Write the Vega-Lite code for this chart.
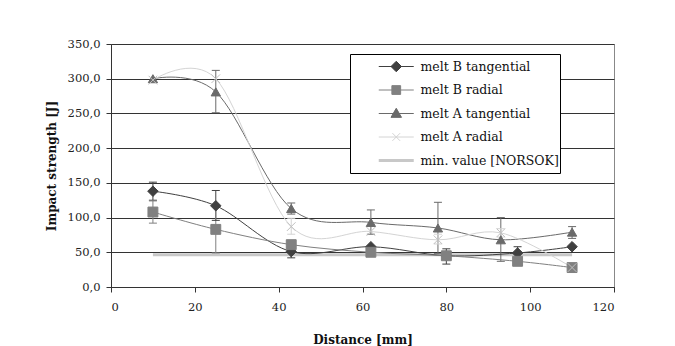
{
  "$schema": "https://vega.github.io/schema/vega-lite/v6.json",
  "width": 503,
  "height": 243,
  "autosize": {"type": "none"},
  "padding": {"left": 111, "top": 44, "right": 61, "bottom": 59},
  "background": "white",
  "config": {
    "font": "DejaVu Serif",
    "view": {"stroke": "#888888", "strokeWidth": 1},
    "axis": {
      "labelFont": "DejaVu Serif", "labelFontSize": 11.5, "labelColor": "#222222", "labelOverlap": false,
      "titleFont": "DejaVu Serif", "titleFontSize": 12, "titleFontWeight": "bold", "titleColor": "#111111",
      "domainColor": "#333333", "tickColor": "#333333", "tickSize": 5,
      "gridColor": "#333333", "gridWidth": 1, "gridOpacity": 1
    },
    "axisX": {"grid": false, "tickCount": 6, "labelPadding": 9, "titlePadding": 22},
    "axisY": {"grid": true, "tickCount": 7, "labelPadding": 6, "titlePadding": 9}
  },
  "datasets": {
    "pts": [
      {"series": "melt B tangential", "x": 10, "y": 138, "lo": 125, "hi": 151},
      {"series": "melt B tangential", "x": 25, "y": 117, "lo": 96, "hi": 139},
      {"series": "melt B tangential", "x": 43, "y": 51, "lo": 42, "hi": 60},
      {"series": "melt B tangential", "x": 62, "y": 58, "lo": null, "hi": null},
      {"series": "melt B tangential", "x": 80, "y": 45, "lo": 33, "hi": 55},
      {"series": "melt B tangential", "x": 97, "y": 49, "lo": 40, "hi": 58},
      {"series": "melt B tangential", "x": 110, "y": 58, "lo": null, "hi": null},
      {"series": "melt B radial", "x": 10, "y": 108, "lo": 92, "hi": 124},
      {"series": "melt B radial", "x": 25, "y": 83, "lo": 49, "hi": 117},
      {"series": "melt B radial", "x": 43, "y": 61, "lo": null, "hi": null},
      {"series": "melt B radial", "x": 62, "y": 50, "lo": null, "hi": null},
      {"series": "melt B radial", "x": 80, "y": 45, "lo": null, "hi": null},
      {"series": "melt B radial", "x": 97, "y": 37, "lo": null, "hi": null},
      {"series": "melt B radial", "x": 110, "y": 28, "lo": null, "hi": null},
      {"series": "melt A tangential", "x": 10, "y": 300, "lo": null, "hi": null},
      {"series": "melt A tangential", "x": 25, "y": 281, "lo": 251, "hi": 312},
      {"series": "melt A tangential", "x": 43, "y": 113, "lo": 105, "hi": 121},
      {"series": "melt A tangential", "x": 62, "y": 93, "lo": 76, "hi": 111},
      {"series": "melt A tangential", "x": 78, "y": 85, "lo": 48, "hi": 122},
      {"series": "melt A tangential", "x": 93, "y": 68, "lo": 37, "hi": 100},
      {"series": "melt A tangential", "x": 110, "y": 79, "lo": 70, "hi": 87},
      {"series": "melt A radial", "x": 10, "y": 298, "lo": null, "hi": null},
      {"series": "melt A radial", "x": 25, "y": 300, "lo": null, "hi": null},
      {"series": "melt A radial", "x": 43, "y": 87, "lo": 76, "hi": 99},
      {"series": "melt A radial", "x": 62, "y": 80, "lo": null, "hi": null},
      {"series": "melt A radial", "x": 78, "y": 68, "lo": 62, "hi": 76},
      {"series": "melt A radial", "x": 93, "y": 78, "lo": 72, "hi": 84},
      {"series": "melt A radial", "x": 110, "y": 28, "lo": null, "hi": null}
    ],
    "norsok": [
      {"series": "min. value [NORSOK]", "x": 10, "y": 46.5},
      {"series": "min. value [NORSOK]", "x": 110, "y": 46.5}
    ]
  },
  "layer": [
    {
      "data": {"name": "norsok"},
      "mark": {"type": "line", "strokeWidth": 3},
      "encoding": {
        "x": {"field": "x", "type": "quantitative", "scale": {"domain": [0, 120], "nice": false}, "title": "Distance [mm]"},
        "y": {"field": "y", "type": "quantitative", "scale": {"domain": [0, 350], "nice": false},
          "axis": {"labelExpr": "replace(format(datum.value, '.1f'), '.', ',')"},
          "title": "Impact strength [J]"},
        "color": {"field": "series", "type": "nominal",
          "scale": {
            "domain": ["melt B tangential", "melt B radial", "melt A tangential", "melt A radial", "min. value [NORSOK]"],
            "range": ["#404040", "#808080", "#6a6a6a", "#d4d4d4", "#c8c8c8"]
          },
          "legend": {
            "orient": "none", "legendX": 239, "legendY": 10,
            "title": null,
            "strokeColor": "#000000", "fillColor": "#ffffff", "padding": 1,
            "labelFont": "DejaVu Serif", "labelFontSize": 12.5, "labelColor": "#111111", "labelLimit": 400,
            "symbolSize": 1225, "clipHeight": 23, "rowPadding": 0.5,
            "symbolOffset": 39, "labelOffset": 18,
            "encode": {
              "labels": {
                "update": {
                  "text": {"signal": "datum.label + '\u00a0\u00a0\u00a0\u00a0\u00a0'"}
                }
              },
              "symbols": {
                "update": {
                  "shape": {"signal": "datum.value == 'melt B tangential' ? 'M-1,0L1,0M0,-0.3L0.3,0L0,0.3L-0.3,0Z' : datum.value == 'melt B radial' ? 'M-1,0L1,0M-0.25,-0.25L0.25,-0.25L0.25,0.25L-0.25,0.25Z' : datum.value == 'melt A tangential' ? 'M-1,0L1,0M0,-0.3L0.3,0.22L-0.3,0.22Z' : datum.value == 'melt A radial' ? 'M-1,0L1,0M-0.22,-0.22L0.22,0.22M0.22,-0.22L-0.22,0.22' : 'M-1,0L1,0'"},
                  "fill": {"signal": "scale('color', datum.value)"},
                  "stroke": {"signal": "scale('color', datum.value)"},
                  "strokeWidth": {"signal": "datum.value == 'min. value [NORSOK]' ? 3 : 1"},
                  "size": {"value": 1225},
                  "opacity": {"value": 1}
                }
              }
            }
          }
        }
      }
    },
    {
      "data": {"name": "pts"},
      "transform": [{"filter": "datum.lo != null"}],
      "mark": {"type": "rule", "strokeWidth": 1},
      "encoding": {
        "x": {"field": "x", "type": "quantitative", "scale": {"domain": [0, 120], "nice": false}, "title": "Distance [mm]"},
        "y": {"field": "lo", "type": "quantitative", "scale": {"domain": [0, 350], "nice": false}, "title": "Impact strength [J]"},
        "y2": {"field": "hi"},
        "color": {"field": "series", "type": "nominal"}
      }
    },
    {
      "data": {"name": "pts"},
      "transform": [{"filter": "datum.lo != null"}, {"fold": ["lo", "hi"], "as": ["end", "v"]}],
      "mark": {"type": "point", "shape": "stroke", "size": 64, "strokeWidth": 1, "opacity": 1},
      "encoding": {
        "x": {"field": "x", "type": "quantitative", "scale": {"domain": [0, 120], "nice": false}, "title": "Distance [mm]"},
        "y": {"field": "v", "type": "quantitative", "scale": {"domain": [0, 350], "nice": false}, "title": "Impact strength [J]"},
        "color": {"field": "series", "type": "nominal"}
      }
    },
    {
      "data": {"name": "pts"},
      "mark": {"type": "line", "strokeWidth": 1, "interpolate": "cardinal"},
      "encoding": {
        "x": {"field": "x", "type": "quantitative", "scale": {"domain": [0, 120], "nice": false}, "title": "Distance [mm]"},
        "y": {"field": "y", "type": "quantitative", "scale": {"domain": [0, 350], "nice": false}, "title": "Impact strength [J]"},
        "color": {"field": "series", "type": "nominal"},
        "order": {"field": "x", "type": "quantitative"}
      }
    },
    {
      "data": {"name": "pts"},
      "mark": {"type": "point", "filled": true, "strokeWidth": 1, "opacity": 1},
      "encoding": {
        "x": {"field": "x", "type": "quantitative", "scale": {"domain": [0, 120], "nice": false}, "title": "Distance [mm]"},
        "y": {"field": "y", "type": "quantitative", "scale": {"domain": [0, 350], "nice": false}, "title": "Impact strength [J]"},
        "color": {"field": "series", "type": "nominal"},
        "stroke": {"field": "series", "type": "nominal", "legend": null,
          "scale": {
            "domain": ["melt B tangential", "melt B radial", "melt A tangential", "melt A radial"],
            "range": ["#404040", "#808080", "#6a6a6a", "#c0c0c0"]
          }},
        "shape": {"field": "series", "type": "nominal", "legend": null,
          "scale": {
            "domain": ["melt B tangential", "melt B radial", "melt A tangential", "melt A radial"],
            "range": ["diamond", "square", "triangle-up", "M-1,-1L1,1M1,-1L-1,1"]
          }},
        "size": {"field": "series", "type": "nominal", "legend": null,
          "scale": {
            "domain": ["melt B tangential", "melt B radial", "melt A tangential", "melt A radial"],
            "range": [110, 75, 95, 70]
          }}
      }
    }
  ]
}
